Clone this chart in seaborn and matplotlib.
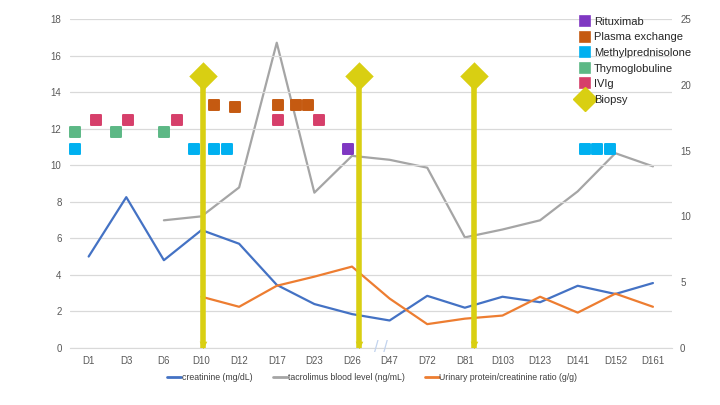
import numpy as np
import pandas as pd
import seaborn as sns
from matplotlib import pyplot as plt
from matplotlib.lines import Line2D

days = ['D1', 'D3', 'D6', 'D10', 'D12', 'D17', 'D23', 'D26',
        'D47', 'D72', 'D81', 'D103', 'D123', 'D141', 'D152', 'D161']

creatinine = [5.0, 8.25, 4.8, 6.45, 5.7, 3.45, 2.4, 1.85,
              1.5, 2.85, 2.2, 2.8, 2.5, 3.4, 2.95, 3.55]
tacrolimus = [np.nan, np.nan, 9.7, 10.0, 12.2, 23.2, 11.8, 14.6,
              14.3, 13.7, 8.4, 9.0, 9.7, 11.9, 14.8, 13.8]
upcr = [np.nan, np.nan, np.nan, 2.8, 2.25, 3.4, 3.9, 4.45,
        2.7, 1.3, 1.6, 1.77, 2.8, 1.93, 2.97, 2.25]

# treatment markers, x in category units (0 = D1)
ritux_x = [6.9]
ritux_y = [10.9]
plex_x = [3.34, 3.88, 5.04, 5.5, 5.84]
plex_y = [13.3, 13.2, 13.3, 13.3, 13.3]
mp_x = [-0.37, 2.81, 3.32, 3.69, 13.19, 13.51, 13.85]
mp_y = [10.9] * 7
thymo_x = [-0.37, 0.72, 1.99]
thymo_y = [11.8] * 3
ivig_x = [0.19, 1.04, 2.36, 5.04, 6.13]
ivig_y = [12.5] * 5
biopsy_x = [3.05, 7.19, 10.25]
biopsy_y = [14.9] * 3

BLUE = '#4472c4'
GRAY = '#a5a5a5'
ORANGE = '#ed7d31'
YELLOW = '#d9cf12'
C_RITUX = '#7f37c2'
C_PLEX = '#c55a11'
C_MP = '#00b0f0'
C_THYMO = '#5cb885'
C_IVIG = '#d63f6a'

sns.set_style('white')
plt.rcParams['font.family'] = ['Liberation Sans', 'DejaVu Sans']

df = pd.DataFrame({'idx': np.arange(len(days)), 'creat': creatinine,
                   'tac': tacrolimus, 'upcr': upcr})

fig = plt.figure(figsize=(7.2, 4.05), dpi=100)
ax = fig.add_axes([0.097, 0.141, 0.836, 0.812])
ax2 = ax.twinx()

sns.lineplot(data=df, x='idx', y='creat', color=BLUE, lw=1.6, ax=ax)
sns.lineplot(data=df, x='idx', y='upcr', color=ORANGE, lw=1.6, ax=ax)
sns.lineplot(data=df, x='idx', y='tac', color=GRAY, lw=1.6, ax=ax2)

ax.set_zorder(ax2.get_zorder() + 1)
ax.patch.set_visible(False)

# biopsies
ax.vlines(biopsy_x, 0, biopsy_y, color=YELLOW, lw=4, zorder=4)
ax.scatter(biopsy_x, biopsy_y, marker='D', s=210, color=YELLOW, zorder=5, linewidths=0)
ax.scatter(biopsy_x, [0.15] * 3, marker='v', s=30, color=YELLOW, zorder=5, linewidths=0)

def squares(xs, ys, col):
    pc = ax.scatter(xs, ys, marker='s', s=50, color=col, edgecolor=col,
                    linewidths=1.4, zorder=6, clip_on=False)
    pc.set_joinstyle('round')

squares(ritux_x, ritux_y, C_RITUX)
squares(plex_x, plex_y, C_PLEX)
squares(mp_x, mp_y, C_MP)
squares(thymo_x, thymo_y, C_THYMO)
squares(ivig_x, ivig_y, C_IVIG)

# axis break
ax.text(7.78, 0, '/ /', color='#c2d3ee', fontsize=12, ha='center', va='center',
        zorder=7, clip_on=False)

ax.set_xlim(-0.5, len(days) - 0.5)
ax.set_ylim(0, 18)
ax.set_yticks(range(0, 19, 2))
ax2.set_ylim(0, 25)
ax2.set_yticks(range(0, 26, 5))
ax.set_xticks(range(len(days)))
ax.set_xticklabels(days)
ax.set_xlabel('')
ax.set_ylabel('')
ax2.set_ylabel('')
ax.grid(axis='y', color='#d9d9d9', lw=0.9)
for a in (ax, ax2):
    for s in a.spines.values():
        s.set_visible(False)
    a.tick_params(length=0, labelsize=7, labelcolor='#595959', pad=6)
ax.spines['bottom'].set_visible(True)
ax.spines['bottom'].set_color('#d9d9d9')

def sq_handle(col):
    return Line2D([], [], marker='s', ls='', color=col, markersize=7.5,
                  markeredgewidth=1.2, markeredgecolor=col)

top_handles = [sq_handle(C_RITUX), sq_handle(C_PLEX), sq_handle(C_MP),
               sq_handle(C_THYMO), sq_handle(C_IVIG),
               Line2D([], [], marker='D', ls='', color=YELLOW, markersize=12)]
top_labels = ['Rituximab', 'Plasma exchange', 'Methylprednisolone',
              'Thymoglobuline', 'IVIg', 'Biopsy']
ax.legend(top_handles, top_labels, loc='upper left',
          bbox_to_anchor=(0.84, 1.02), frameon=False, fontsize=8,
          handletextpad=0.25, labelspacing=0.5, handlelength=1.0,
          borderaxespad=0)

bottom_handles = [Line2D([], [], color=BLUE, lw=2),
                  Line2D([], [], color=GRAY, lw=2),
                  Line2D([], [], color=ORANGE, lw=2)]
bottom_labels = ['creatinine (mg/dL)', 'tacrolimus blood level (ng/mL)',
                 'Urinary protein/creatinine ratio (g/g)']
fig.legend(bottom_handles, bottom_labels, loc='center', bbox_to_anchor=(0.517, 0.067),
           ncol=3, frameon=False, fontsize=6.3, handlelength=1.6,
           handletextpad=0.1, columnspacing=2.3, labelcolor='#404040')

plt.savefig('out.png', dpi=100)
